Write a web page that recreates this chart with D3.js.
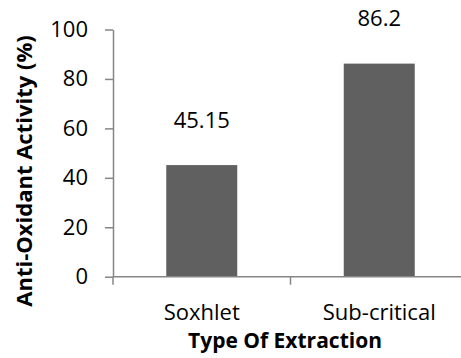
<!DOCTYPE html>
<html>
<head>
<meta charset="utf-8">
<script src="https://cdn.jsdelivr.net/npm/d3@7"></script>
<style>
  body { margin: 0; background: #fff; }
  svg text { font-family: "Open Sans", sans-serif; fill: #000; }
</style>
</head>
<body>
<script>
// data
const categories = ["Soxhlet", "Sub-critical"];
const values = [45.15, 86.2];
const valueLabels = ["45.15", "86.2"];
const yTicks = [0, 20, 40, 60, 80, 100];

const width = 461, height = 358;
const margin = {left: 113, right: -7, top: 29.5, bottom: 81.3};

const svg = d3.select("body").append("svg")
    .attr("width", width)
    .attr("height", height);

const x = d3.scaleBand()
    .domain(categories)
    .range([margin.left, width - margin.right])
    .paddingInner(0.6)
    .paddingOuter(0.3);

const y = d3.scaleLinear()
    .domain([0, 100])
    .range([height - margin.bottom, margin.top]);

const axisColor = "#868686";

// y axis
const yAxis = svg.append("g")
    .attr("transform", `translate(${margin.left},0)`)
    .call(d3.axisLeft(y).tickValues(yTicks).tickSize(8).tickPadding(17).tickSizeOuter(0));
yAxis.select(".domain").attr("stroke", axisColor).attr("stroke-width", 1.5);
yAxis.selectAll(".tick line").attr("stroke", axisColor).attr("stroke-width", 1.5);
yAxis.selectAll(".tick text").attr("font-size", 22).attr("font-family", "Open Sans").attr("fill", "#000");

// bars
svg.selectAll(".bar")
    .data(values)
    .enter()
    .append("rect")
    .attr("class", "bar")
    .attr("x", (d, i) => x(categories[i]))
    .attr("y", d => y(d))
    .attr("width", x.bandwidth())
    .attr("height", d => y(0) - y(d))
    .attr("fill", "#606060");

// x axis line + ticks between categories
const x0 = y(0);
svg.append("line")
    .attr("x1", margin.left).attr("x2", width - margin.right)
    .attr("y1", x0).attr("y2", x0)
    .attr("stroke", axisColor).attr("stroke-width", 1.5);
const bounds = [margin.left, margin.left + x.step(), width - margin.right];
svg.selectAll(".xtick")
    .data(bounds)
    .enter()
    .append("line")
    .attr("x1", d => d).attr("x2", d => d)
    .attr("y1", x0).attr("y2", x0 + 8)
    .attr("stroke", axisColor).attr("stroke-width", 1.5);

// category labels
svg.selectAll(".cat")
    .data(categories)
    .enter()
    .append("text")
    .attr("x", d => x(d) + x.bandwidth() / 2)
    .attr("y", 312)
    .attr("dy", "0.35em")
    .attr("text-anchor", "middle")
    .attr("font-size", 22)
    .text(d => d);

// value labels
svg.selectAll(".val")
    .data(values)
    .enter()
    .append("text")
    .attr("x", (d, i) => x(categories[i]) + x.bandwidth() / 2)
    .attr("y", d => y(d) - 45)
    .attr("dy", "0.35em")
    .attr("text-anchor", "middle")
    .attr("font-size", 22)
    .text((d, i) => valueLabels[i]);

// axis titles
svg.append("text")
    .attr("x", 285)
    .attr("y", 341)
    .attr("dy", "0.35em")
    .attr("text-anchor", "middle")
    .attr("font-size", 21)
    .attr("font-weight", "bold")
    .text("Type Of Extraction");

svg.append("text")
    .attr("transform", "translate(24,171) rotate(-90)")
    .attr("dy", "0.35em")
    .attr("text-anchor", "middle")
    .attr("font-size", 22)
    .attr("font-weight", "bold")
    .text("Anti-Oxidant Activity (%)");
</script>
</body>
</html>
